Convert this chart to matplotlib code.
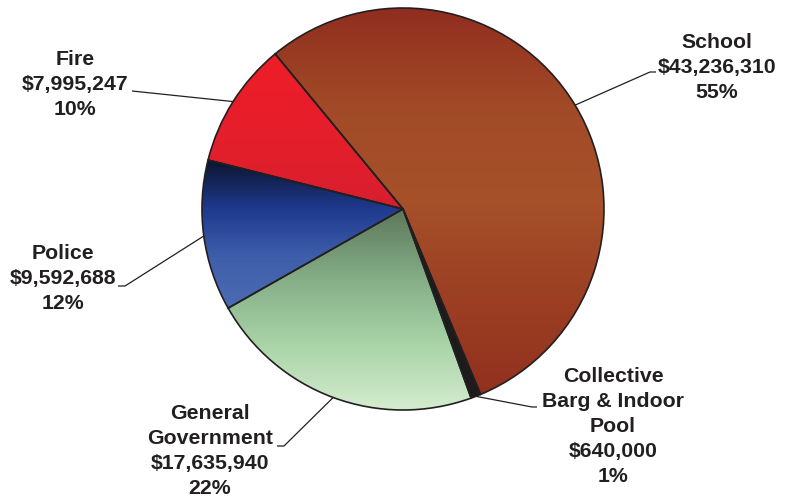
import numpy as np
import matplotlib
matplotlib.use('Agg')
import matplotlib.pyplot as plt
from matplotlib.colors import LinearSegmentedColormap

# datos del grafico
categorias = ['School', 'Collective\nBarg & Indoor\nPool', 'General\nGovernment', 'Police', 'Fire']
valores = [43236310, 640000, 17635940, 9592688, 7995247]
porcentajes = ['55%', '1%', '22%', '12%', '10%']

# gradientes (arriba -> abajo) por porcion
gradientes = [
    ['#902d1f', '#a24a27', '#a6512a', '#9c3f23', '#92311f'],
    ['#1d1b1c', '#1d1b1c'],
    ['#5d775b', '#83ac85', '#a8d3a7', '#d4ecce'],
    ['#0c132c', '#1f3a8e', '#3f5fab', '#4b6bb3'],
    ['#ee1d29', '#e61e2b', '#d71f2f'],
]

W, H = 792, 498
fig = plt.figure(figsize=(W / 100, H / 100), dpi=100)
ax = fig.add_axes([0, 0, 1, 1])

cx, cy, r = 403, H - 209, 201

wedges, _ = ax.pie(valores, center=(cx, cy), radius=r, startangle=129.5,
                   counterclock=False, frame=True,
                   wedgeprops=dict(edgecolor='#231f20', linewidth=1.2))
ax.set_xlim(0, W)
ax.set_ylim(0, H)
ax.set_aspect('equal')
ax.axis('off')

grad = np.linspace(0, 1, 256).reshape(-1, 1)
for w, cols in zip(wedges, gradientes):
    ext = w.get_path().get_extents()
    cmap = LinearSegmentedColormap.from_list('g', cols)
    im = ax.imshow(grad, cmap=cmap, extent=(ext.x0, ext.x1, ext.y0, ext.y1),
                   origin='upper', aspect='auto', zorder=2, interpolation='bilinear')
    im.set_clip_path(w)
    w.set_facecolor('none')
    w.set_zorder(3)

# posiciones de etiquetas (pixeles de imagen) y lineas guia
etiq_pos = [(717, 67), (613, 426), (210, 451), (63, 278), (75, 84)]
guia = [
    [(650, 72), (656, 72)],
    [(532, 407), (537, 407)],
    [(284, 446), (277, 446)],
    [(125, 286), (118, 286)],
    [(132, 91)],
]

for w, cat, val, pct, (tx, ty), pts in zip(wedges, categorias, valores, porcentajes, etiq_pos, guia):
    ang = np.deg2rad((w.theta1 + w.theta2) / 2)
    ex, ey = cx + r * np.cos(ang), cy + r * np.sin(ang)
    xs = [ex] + [p[0] for p in pts]
    ys = [ey] + [H - p[1] for p in pts]
    ax.plot(xs, ys, color='#231f20', lw=0.9, zorder=4, solid_capstyle='butt')
    ax.text(tx, H - ty, f'{cat}\n${val:,}\n{pct}', ha='center', va='center',
            fontsize=15.3, fontweight='bold', family='Liberation Sans',
            color='#231f20', linespacing=1.4, zorder=5)

fig.savefig('out.png', dpi=100)
